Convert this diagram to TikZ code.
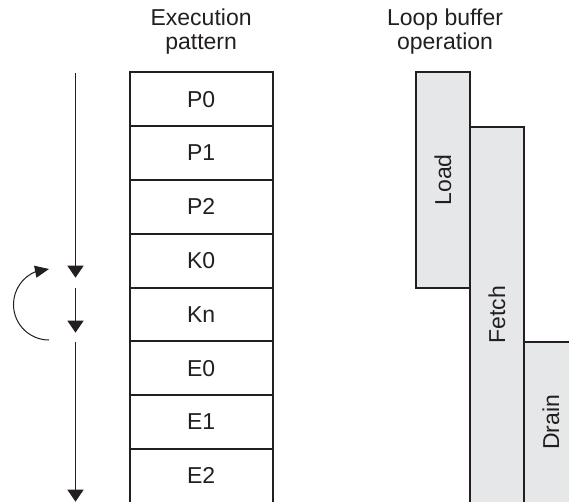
\documentclass[tikz,border=0pt]{standalone}
\usepackage{fontspec}
\setmainfont{Liberation Sans}
\usetikzlibrary{arrows.meta,bending}
\definecolor{ink}{HTML}{231F20}
\definecolor{boxgray}{HTML}{E6E7E8}
\begin{document}
\begin{tikzpicture}[x=1pt,y=-1pt,
  every node/.style={font=\fontsize{23}{24.5}\selectfont, text=ink},
  rowbox/.style={draw=ink, line width=2pt, fill=white, minimum width=143.2pt,
    minimum height=53.8pt, inner sep=0pt, outer sep=0pt},
  opbox/.style={draw=ink, line width=2pt, fill=boxgray, inner sep=0pt, outer sep=0pt},
  head/.style={align=center, inner sep=0pt, anchor=north},
  flow/.style={draw=ink, line width=1.3pt, -{Triangle[width=16pt,length=12pt]}},
  loop/.style={draw=ink, line width=1pt, -{Triangle[width=12pt,length=14pt,flex]}}
]
\useasboundingbox (0,0) rectangle (569,502);
\clip (0,0) rectangle (569,502);

% headers
\node[head] (h1) at (201.1,8.5) {Execution\\pattern};
\node[head] (h2) at (445,8.5) {Loop buffer\\operation};

% execution pattern stack
\foreach \lab [count=\i from 0] in {P0,P1,P2,K0,Kn,E0,E1,E2} {
  \node[rowbox] (r\i) at (201.1,{72.3+53.8*\i+26.9}) {\lab};
}

% loop buffer operation boxes
\node[opbox, minimum width=54pt, minimum height=215.2pt] (load) at (443,179.9)
  {\rotatebox{90}{Load}};
\node[opbox, minimum width=54pt, minimum height=376.3pt] (fetch) at (497,314.85)
  {\rotatebox{90}{Fetch}};
\node[opbox, minimum width=54pt, minimum height=161.5pt] (drain) at (551,422.25)
  {\rotatebox{90}{Drain}};

% vertical flow arrows
\coordinate (a0) at (75.5,72.7);
\coordinate (a1) at (75.5,277.7);
\coordinate (b0) at (75.5,287.7);
\coordinate (b1) at (75.5,332.7);
\coordinate (c0) at (75.5,341.7);
\coordinate (c1) at (75.5,501.7);
\draw[flow] (a0) -- (a1);
\draw[flow] (b0) -- (b1);
\draw[flow] (c0) -- (c1);

% loop-back arrow
\coordinate (lb) at (49,340);
\draw[loop] (lb) arc[start angle=90, end angle=270, radius=35.5];
\end{tikzpicture}
\end{document}
